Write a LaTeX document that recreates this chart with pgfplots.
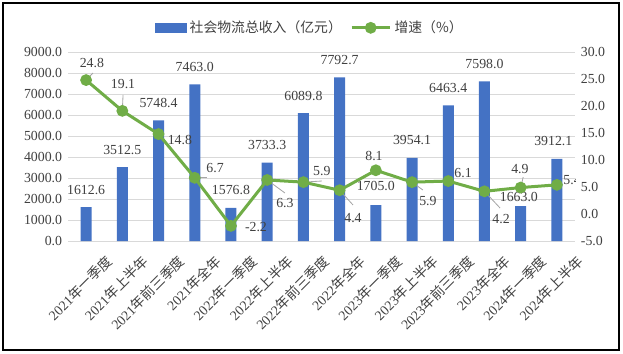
\documentclass[border=0pt]{standalone}
\usepackage{fontspec}
\setmainfont{Liberation Serif}
\newfontfamily\cjk{Noto Sans CJK SC}
\usepackage{pgfplots}
\pgfplotsset{compat=1.18}
\definecolor{barblue}{HTML}{4472C4}
\definecolor{linegreen}{HTML}{70AD47}
\definecolor{gridgray}{HTML}{D9D9D9}
\definecolor{txt}{HTML}{404040}
\definecolor{lead}{HTML}{A6A6A6}
\pgfplotsset{
  mylinelegend/.style={legend image code/.code={\draw[mark repeat=2,mark phase=2,##1] plot coordinates {(0pt,0pt) (11.4pt,0pt) (22.8pt,0pt)};}},
  mybarlegend/.style={legend image code/.code={\fill[barblue] (0pt,-2.7pt) rectangle (18.6pt,2.7pt);}},
}
\begin{document}
\begin{tikzpicture}[font=\fontsize{8.3}{9.5}\selectfont]
\path (0pt,0pt) rectangle (373.8pt,211.8pt);
\draw[line width=0.9pt] (1.8pt,1.8pt) rectangle (371.4pt,210pt);
\begin{axis}[
  at={(40.8pt,67.2pt)}, anchor=south west, scale only axis,
  width=304.2pt, height=113.4pt,
  xmin=-0.5, xmax=13.5, ymin=0, ymax=9000,
  ytick={0,1000,...,9000}, scaled y ticks=false,
  xtick={0,...,13},
  xticklabels={{2021{\cjk 年一季度}},{2021{\cjk 年上半年}},{2021{\cjk 年前三季度}},{2021{\cjk 年全年}},
    {2022{\cjk 年一季度}},{2022{\cjk 年上半年}},{2022{\cjk 年前三季度}},{2022{\cjk 年全年}},
    {2023{\cjk 年一季度}},{2023{\cjk 年上半年}},{2023{\cjk 年前三季度}},{2023{\cjk 年全年}},
    {2024{\cjk 年一季度}},{2024{\cjk 年上半年}}},
  axis line style={draw=none}, major tick style={draw=none},
  ymajorgrids, grid style={gridgray, line width=0.6pt},
  tick label style={text=txt},
  yticklabel style={/pgf/number format/.cd, fixed, fixed zerofill, precision=1, 1000 sep={}, assume math mode=true},
  xticklabel style={rotate=45, anchor=east, inner sep=1pt, xshift=3.6pt, yshift=-17.4pt},
]
\addplot[ybar, bar width=6.6pt, fill=barblue, draw=none]
  coordinates {(0,1612.6) (1,3512.5) (2,5748.4) (3,7463.0) (4,1576.8) (5,3733.3) (6,6089.8)
               (7,7792.7) (8,1705.0) (9,3954.1) (10,6463.4) (11,7598.0) (12,1663.0) (13,3912.1)};
\begin{scope}[every node/.style={text=txt, inner sep=0pt, yshift=10.5pt}]
\node at (axis cs:0,1612.6) {1612.6};
\node at (axis cs:1,3512.5) {3512.5};
\node at (axis cs:2,5748.4) {5748.4};
\node at (axis cs:3,7463.0) {7463.0};
\node at (axis cs:4,1576.8) {1576.8};
\node at (axis cs:5,3733.3) {3733.3};
\node at (axis cs:6,6089.8) {6089.8};
\node at (axis cs:7,7792.7) {7792.7};
\node[yshift=1.2pt] at (axis cs:8,1705.0) {1705.0};
\node at (axis cs:9,3954.1) {3954.1};
\node at (axis cs:10,6463.4) {6463.4};
\node at (axis cs:11,7598.0) {7598.0};
\node[yshift=-4.8pt] at (axis cs:11.95,1663.0) {1663.0};
\node at (axis cs:12.9,3912.1) {3912.1};
\end{scope}
\end{axis}
\begin{axis}[
  at={(40.8pt,67.2pt)}, anchor=south west, scale only axis,
  width=304.2pt, height=113.4pt,
  xmin=-0.5, xmax=13.5, ymin=-5, ymax=30,
  ytick={-5,0,...,30},
  axis x line=none, axis y line*=right,
  axis line style={draw=none}, major tick style={draw=none},
  tick label style={text=txt},
  yticklabel style={/pgf/number format/.cd, fixed, fixed zerofill, precision=1, assume math mode=true},
  legend columns=2,
  legend style={draw=none, fill=none, at={(0.478,1.128)}, anchor=center, text=txt,
    /tikz/every even column/.append style={column sep=3pt}},
]
\addlegendimage{mybarlegend}
\addlegendentry{\cjk 社会物流总收入（亿元）}
\draw[lead, line width=0.5pt] (axis cs:0,24.8) -- (axis cs:0.19,26.11);
\draw[lead, line width=0.5pt] (axis cs:1,19.1) -- (axis cs:1.02,22.04);
\draw[lead, line width=0.5pt] (axis cs:3,6.7) -- (axis cs:3.34,6.7);
\draw[lead, line width=0.5pt] (axis cs:5,6.3) -- (axis cs:5.49,3.89);
\draw[lead, line width=0.5pt] (axis cs:6,5.9) -- (axis cs:6.51,6.11);
\draw[lead, line width=0.5pt] (axis cs:7,4.4) -- (axis cs:7.37,1.67);
\draw[lead, line width=0.5pt] (axis cs:9,5.9) -- (axis cs:9.30,4.44);
\draw[lead, line width=0.5pt] (axis cs:11,4.2) -- (axis cs:11.43,1.11);
\draw[lead, line width=0.5pt] (axis cs:12,4.9) -- (axis cs:12.07,6.85);
\addplot[linegreen, line width=1.8pt, mark=*, mark size=2.6pt, mark options={fill=linegreen, solid}, mylinelegend]
  coordinates {(0,24.8) (1,19.1) (2,14.8) (3,6.7) (4,-2.2) (5,6.3) (6,5.9)
               (7,4.4) (8,8.1) (9,5.9) (10,6.1) (11,4.2) (12,4.9) (13,5.4)};
\addlegendentry{\cjk 增速（\%）}
\begin{scope}[every node/.style={text=txt, inner sep=0pt}]
\node at (axis cs:0.16,27.96) {24.8};
\node at (axis cs:1.02,24.07) {19.1};
\node at (axis cs:2.59,13.70) {14.8};
\node at (axis cs:3.56,8.52) {6.7};
\node at (axis cs:4.69,-2.41) {-2.2};
\node at (axis cs:5.49,2.04) {6.3};
\node at (axis cs:6.51,7.96) {5.9};
\node at (axis cs:7.37,-0.74) {4.4};
\node at (axis cs:7.95,10.74) {8.1};
\node at (axis cs:9.44,2.41) {5.9};
\node at (axis cs:10.41,7.59) {6.1};
\node at (axis cs:11.46,-0.93) {4.2};
\node at (axis cs:11.98,8.33) {4.9};
\node at (axis cs:13.42,6.30) {5.4};
\end{scope}
\end{axis}
\end{tikzpicture}
\end{document}
